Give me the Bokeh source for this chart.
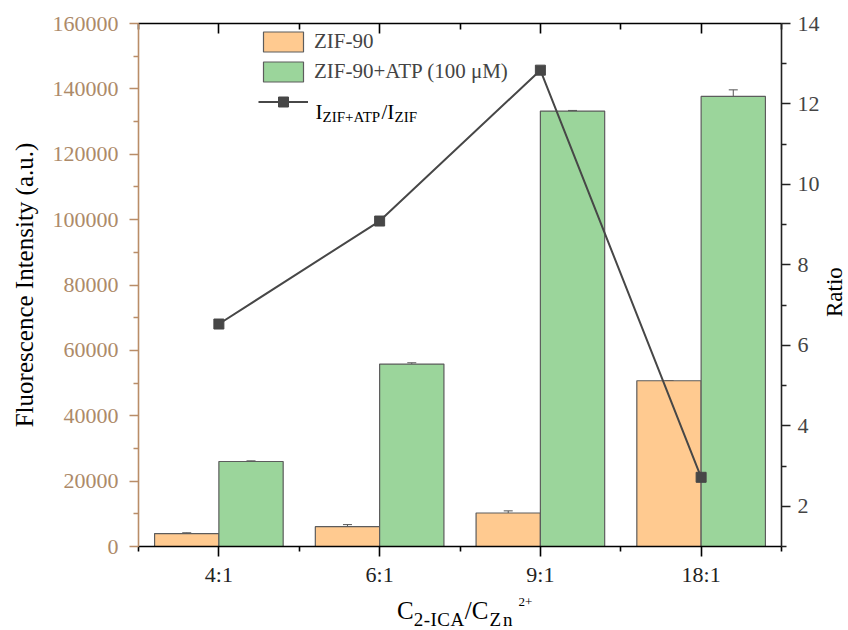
import math
from bokeh.plotting import figure
from bokeh.models import (Range1d, LinearAxis, FixedTicker, BasicTickFormatter, Whisker,
                          ColumnDataSource, Legend, LegendItem, Label, TeeHead, Div)
from bokeh.layouts import column, row
from bokeh.embed import file_html
from bokeh.resources import INLINE

# ---- data ----
categories = ["4:1", "6:1", "9:1", "18:1"]
zif90 = [3950, 6050, 10250, 50700]
zif90_err = [250, 650, 650, 0]
zif90_atp = [26000, 55800, 133200, 137700]
zif90_atp_err = [200, 400, 200, 2000]
ratio = [6.53, 9.09, 12.84, 2.72]
left_ticks = [0, 20000, 40000, 60000, 80000, 100000, 120000, 140000, 160000]
right_ticks = [2, 4, 6, 8, 10, 12, 14]

FONT = "Liberation Serif"
ORANGE = "#ffca90"
GREEN = "#9bd59b"
EDGE = "#5c5c5c"
TAN = "#b98d68"

centers = [i + 0.5 for i in range(len(categories))]
src = ColumnDataSource(dict(
    x=centers,
    xo=[c - 0.2 for c in centers],
    xg=[c + 0.2 for c in centers],
    zif=zif90,
    zif_lo=[v - e for v, e in zip(zif90, zif90_err)],
    zif_hi=[v + e for v, e in zip(zif90, zif90_err)],
    atp=zif90_atp,
    atp_lo=[v - e for v, e in zip(zif90_atp, zif90_atp_err)],
    atp_hi=[v + e for v, e in zip(zif90_atp, zif90_atp_err)],
    ratio=ratio,
))

p = figure(width=822, height=592, output_backend="svg", toolbar_location=None,
           x_range=Range1d(0, len(categories)), y_range=Range1d(0, 160000),
           min_border_left=138, min_border_right=40, min_border_top=23, min_border_bottom=46)
p.extra_y_ranges = {"ratio": Range1d(1, 14)}
p.outline_line_color = None
p.xgrid.visible = False
p.ygrid.visible = False
p.background_fill_color = "white"
p.border_fill_color = "white"

# bars
r_o = p.vbar(x="xo", top="zif", width=0.4, source=src, fill_color=ORANGE,
             line_color=EDGE, line_width=1.2)
r_g = p.vbar(x="xg", top="atp", width=0.4, source=src, fill_color=GREEN,
             line_color=EDGE, line_width=1.2)

for base, lo, hi in [("xo", "zif_lo", "zif_hi"), ("xg", "atp_lo", "atp_hi")]:
    w = Whisker(base=base, lower=lo, upper=hi, source=src, dimension="height",
                line_color="#555555", line_width=1,
                upper_head=TeeHead(size=9, line_color="#555555", line_width=1),
                lower_head=TeeHead(size=9, line_color="#555555", line_width=1))
    p.add_layout(w)

# ratio line
r_l = p.line(x="x", y="ratio", source=src, y_range_name="ratio",
             line_color="#474747", line_width=2)
r_s = p.scatter(x="x", y="ratio", source=src, y_range_name="ratio", marker="square",
                size=10, fill_color="#474747", line_color="#474747")

# x axis (bottom)
xticker = FixedTicker(ticks=centers, minor_ticks=list(range(len(categories) + 1)))
xa = p.xaxis[0]
xa.ticker = xticker
xa.major_label_overrides = {c: lab for c, lab in zip(centers, categories)}
xa.axis_line_color = "black"
xa.axis_line_width = 1.6
xa.major_tick_line_color = "black"
xa.major_tick_line_width = 1.6
xa.minor_tick_line_color = "black"
xa.minor_tick_line_width = 1.6
xa.major_tick_in = 0
xa.major_tick_out = 10
xa.minor_tick_in = 0
xa.minor_tick_out = 5
xa.major_label_text_font = FONT
xa.major_label_text_font_size = "22px"
xa.major_label_text_color = "#222222"
xa.major_label_standoff = 5

# top axis
ta = LinearAxis(ticker=xticker, major_label_overrides={c: "" for c in centers})
ta.axis_line_color = "black"
ta.axis_line_width = 1.6
ta.major_tick_line_color = "black"
ta.major_tick_line_width = 1.6
ta.minor_tick_line_color = "black"
ta.minor_tick_line_width = 1.6
ta.major_tick_in = 10
ta.major_tick_out = 0
ta.minor_tick_in = 6
ta.minor_tick_out = 0
ta.major_label_text_font_size = "1px"
ta.major_label_standoff = 0
p.add_layout(ta, "above")

# left axis
ya = p.yaxis[0]
ya.ticker = FixedTicker(ticks=left_ticks,
                        minor_ticks=[t + 10000 for t in left_ticks[:-1]])
ya.formatter = BasicTickFormatter(use_scientific=False)
ya.axis_line_color = TAN
ya.axis_line_width = 1.6
ya.major_tick_line_color = TAN
ya.major_tick_line_width = 1.6
ya.minor_tick_line_color = TAN
ya.minor_tick_line_width = 1.6
ya.major_tick_in = 0
ya.major_tick_out = 9
ya.minor_tick_in = 0
ya.minor_tick_out = 5
ya.major_label_text_font = FONT
ya.major_label_text_font_size = "22px"
ya.major_label_text_color = "#ad8a69"
ya.major_label_standoff = 11
ya.axis_label = "Fluorescence Intensity (a.u.)"
ya.axis_label_text_font = FONT
ya.axis_label_text_font_size = "25px"
ya.axis_label_text_font_style = "normal"
ya.axis_label_text_color = "black"
ya.axis_label_standoff = 12

# right axis (its title is drawn in the narrow text block to the right)
ra = LinearAxis(y_range_name="ratio",
                ticker=FixedTicker(ticks=right_ticks, minor_ticks=[t - 1 for t in right_ticks]))
ra.axis_line_color = "#222222"
ra.axis_line_width = 1.6
ra.major_tick_line_color = "#222222"
ra.major_tick_line_width = 1.6
ra.minor_tick_line_color = "#222222"
ra.minor_tick_line_width = 1.6
ra.major_tick_in = 0
ra.major_tick_out = 9
ra.minor_tick_in = 0
ra.minor_tick_out = 5
ra.major_label_text_font = FONT
ra.major_label_text_font_size = "22px"
ra.major_label_text_color = "#444444"
ra.major_label_standoff = 7
p.add_layout(ra, "right")

# legend
legend = Legend(items=[
    LegendItem(label="ZIF-90", renderers=[r_o]),
    LegendItem(label="ZIF-90+ATP (100 \u03bcM)", renderers=[r_g]),
    LegendItem(label=" ", renderers=[r_l, r_s]),
], location=(120, 432))
legend.glyph_width = 50
legend.glyph_height = 25
legend.spacing = 5
legend.padding = 2
legend.margin = 0
legend.label_standoff = 6
legend.label_text_font = FONT
legend.label_text_font_size = "21px"
legend.label_height = 25
legend.border_line_color = None
legend.background_fill_alpha = 0
p.add_layout(legend)

def lab(text, x, y, size):
    p.add_layout(Label(text=text, x=x, y=y, x_units="screen", y_units="screen",
                       text_font=FONT, text_font_size=size, text_color="black",
                       text_baseline="alphabetic", text_align="left"))

# legend entry 3 with subscripts
lab("I", 177, 435, "21px")
lab("ZIF+ATP", 184, 430, "15px")
lab("/I", 243, 435, "21px")
lab("ZIF", 256, 430, "15px")

# right axis title
ratio_title = Div(
    text=('<div style="position:absolute;left:0;top:263px;width:26px;height:54px;'
          'writing-mode:vertical-rl;transform:rotate(180deg);'
          'font-family:\'Liberation Serif\',serif;font-size:23px;line-height:26px;'
          'color:black;white-space:nowrap;">Ratio</div>'),
    width=26, height=592, margin=0)

# x axis title with sub/superscripts
SUB = "font-size:19px;position:relative;top:7px;letter-spacing:0.5px;"
SUP = "font-size:13px;position:relative;top:-13px;margin-left:4px;"
xtitle = Div(
    text=('<div style="font-family:\'Liberation Serif\',serif;font-size:25px;color:black;'
          'line-height:25px;margin:0;padding:6px 0 0 397px;white-space:nowrap;">'
          f'C<span style="{SUB}">2-ICA</span>'
          f'/C<span style="{SUB}margin-left:1px;letter-spacing:2px;">Zn</span>'
          f'<span style="{SUP}">2+</span></div>'),
    width=848, height=38, margin=0)

layout = column(row(p, ratio_title, spacing=0), xtitle, spacing=0)
open("out.html", "w").write(file_html(layout, INLINE))
